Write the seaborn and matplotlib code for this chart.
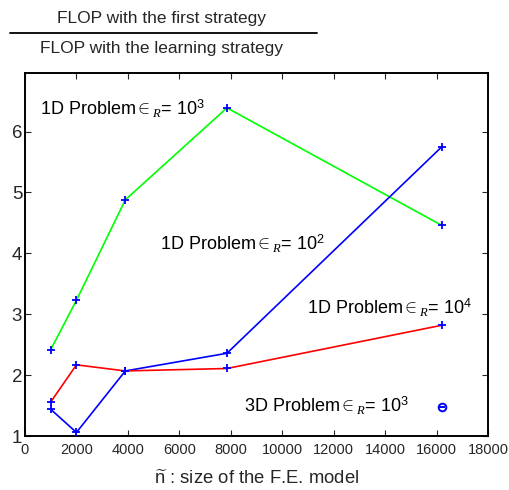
import matplotlib
matplotlib.use("Agg")
import matplotlib.pyplot as plt
import seaborn as sns
import pandas as pd
from matplotlib.lines import Line2D

# ---- data ----
x_green = [1000, 2000, 3900, 7850, 16200]
y_green = [2.42, 3.23, 4.88, 6.39, 4.46]

x_blue = [1000, 2000, 3900, 7850, 16200]
y_blue = [1.44, 1.06, 2.07, 2.36, 5.75]

x_red = [1000, 2000, 3900, 7850, 16200]
y_red = [1.56, 2.17, 2.07, 2.11, 2.82]

x_3d = [16200]
y_3d = [1.47]

series_names = ["green", "blue", "red"]
colors = {"green": "#00ff00", "blue": "#0000ff", "red": "#ff0000"}

x_ticks = [0, 2000, 4000, 6000, 8000, 10000, 12000, 14000, 16000, 18000]
y_ticks = [1, 2, 3, 4, 5, 6]

labels = [
    (r"1D Problem$\in_{R}$= 10$^{3}$", 580, 6.38),
    (r"1D Problem$\in_{R}$= 10$^{2}$", 5250, 4.15),
    (r"1D Problem$\in_{R}$= 10$^{4}$", 10950, 3.11),
    (r"3D Problem$\in_{R}$= 10$^{3}$", 8520, 1.49),
]

df = pd.concat([
    pd.DataFrame({"x": x_green, "y": y_green, "s": "green"}),
    pd.DataFrame({"x": x_blue, "y": y_blue, "s": "blue"}),
    pd.DataFrame({"x": x_red, "y": y_red, "s": "red"}),
], ignore_index=True)

sns.set_style("ticks")
plt.rcParams["font.family"] = ["Liberation Sans", "DejaVu Sans"]
plt.rcParams["mathtext.fontset"] = "custom"
plt.rcParams["mathtext.rm"] = "Liberation Sans"
plt.rcParams["mathtext.it"] = "Liberation Serif:italic"

fig = plt.figure(figsize=(5.1, 4.9), dpi=100)
ax = fig.add_axes([0.049, 0.110, 0.908, 0.742])

sns.lineplot(data=df, x="x", y="y", hue="s", palette=colors, hue_order=series_names,
             estimator=None, sort=False, linewidth=1.2, legend=False, ax=ax)
sns.scatterplot(data=df, x="x", y="y", marker="+", color="#0000ff", s=40,
                linewidth=1.3, legend=False, ax=ax, zorder=5)

# 3D point
ax.plot(x_3d, y_3d, linestyle="none", marker="o", markersize=5.5,
        markerfacecolor="none", markeredgecolor="#0000ff", markeredgewidth=1.4)
ax.plot(x_3d, y_3d, linestyle="none", marker="_", markersize=5,
        color="#0000ff", markeredgewidth=1.4)

for txt, tx, ty in labels:
    ax.text(tx, ty, txt, fontsize=13, ha="left", va="center", color="black")

ax.set_xlim(0, 18000)
ax.set_ylim(1, 6.97)
ax.set_xticks(x_ticks)
ax.set_yticks(y_ticks)
ax.tick_params(axis="x", direction="in", length=4, labelsize=10.5, top=True, pad=5)
ax.tick_params(axis="y", direction="in", length=4, labelsize=13.5, right=True, pad=2)
for sp in ax.spines.values():
    sp.set_linewidth(1.4)
    sp.set_color("black")

ax.set_xlabel(r"$\widetilde{\mathrm{n}}$ : size of the F.E. model", fontsize=13.3, labelpad=9)
ax.set_ylabel("")

# fraction-style label at top
fig.text(162 / 510, 1 - 18 / 490, "FLOP with the first strategy", ha="center", va="center", fontsize=12.5)
fig.text(162 / 510, 1 - 48 / 490, "FLOP with the learning strategy", ha="center", va="center", fontsize=12.5)
fig.add_artist(Line2D([10 / 510, 317 / 510], [1 - 33 / 490, 1 - 33 / 490],
                      transform=fig.transFigure, color="black", linewidth=1.3))

fig.savefig("out.png", dpi=100)
